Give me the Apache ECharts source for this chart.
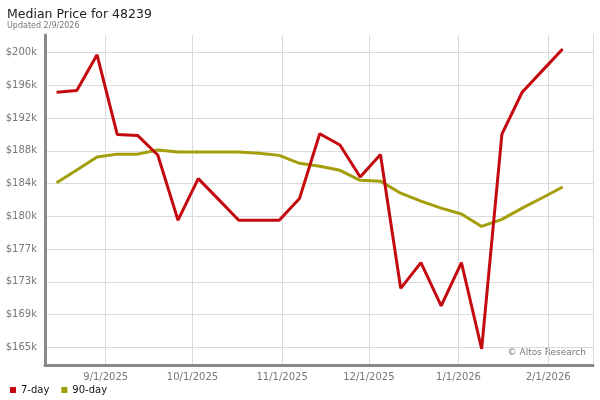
<!DOCTYPE html>
<html>
<head>
<meta charset="utf-8">
<script src="https://cdn.jsdelivr.net/npm/echarts@6/dist/echarts.min.js"></script>
<style>
  html, body { margin: 0; padding: 0; background: #fff; }
  #chart { width: 600px; height: 400px; }
</style>
</head>
<body>
<div id="chart"></div>
<script>
// weekly dates (fridays)
const weeks = [
  "2025-08-15", "2025-08-22", "2025-08-29", "2025-09-05", "2025-09-12",
  "2025-09-19", "2025-09-26", "2025-10-03", "2025-10-10", "2025-10-17",
  "2025-10-24", "2025-10-31", "2025-11-07", "2025-11-14", "2025-11-21",
  "2025-11-28", "2025-12-05", "2025-12-12", "2025-12-19", "2025-12-26",
  "2026-01-02", "2026-01-09", "2026-01-16", "2026-01-23", "2026-01-30",
  "2026-02-06"
];
const sevenDay = [
  195400, 195600, 199900, 190300, 190200, 187850, 180000, 185000, 182500, 180000,
  180000, 180000, 182600, 190400, 189050, 185200, 187900, 171800, 174900, 169700,
  174900, 164500, 190350, 195400, 198000, 200600
];
const ninetyDay = [
  184500, 186050, 187600, 187950, 187950, 188450, 188200, 188200, 188200, 188200,
  188050, 187800, 186850, 186500, 186000, 184800, 184700, 183250, 182300, 181450,
  180750, 179250, 180100, 181450, 182700, 184000
];
const monthTicks = ["2025-09-01", "2025-10-01", "2025-11-01", "2025-12-01", "2026-01-01", "2026-02-01"];
const monthLabels = ["9/1/2025", "10/1/2025", "11/1/2025", "12/1/2025", "1/1/2026", "2/1/2026"];
const yTickValues = [164700, 168640, 172580, 176520, 180460, 184400, 188340, 192280, 196220, 200160];
const yTickLabels = ["$165k", "$169k", "$173k", "$177k", "$180k", "$184k", "$188k", "$192k", "$196k", "$200k"];

const font = "DejaVu Sans";
const step = yTickValues[1] - yTickValues[0];
// dates as plain timestamps (utc days) on a value axis
const toTime = s => {
  const p = s.split(/[- :]/).map(Number);
  return Date.UTC(p[0], p[1] - 1, p[2], p[3] || 0);
};
const monthTimes = monthTicks.map(toTime);

const chart = echarts.init(document.getElementById("chart"));
chart.setOption({
  animation: false,
  textStyle: { fontFamily: font },
  title: {
    text: "Median Price for 48239",
    subtext: "Updated 2/9/2026",
    left: 2,
    top: 3,
    itemGap: 1,
    textStyle: { fontSize: 12.5, fontWeight: "normal", color: "#222", fontFamily: font },
    subtextStyle: { fontSize: 8, color: "#777", fontFamily: font }
  },
  legend: {
    left: 5,
    top: 380,
    icon: "rect",
    itemWidth: 6,
    itemHeight: 6,
    itemGap: 12,
    textStyle: { fontSize: 10, color: "#111", fontFamily: font },
    data: ["7-day", "90-day"]
  },
  grid: { left: 45, right: 7, top: 35, bottom: 35 },
  xAxis: {
    type: "value",
    min: toTime("2025-08-11"),
    max: toTime("2026-02-16 12"),
    axisLine: { show: true, onZero: false, lineStyle: { color: "#888", width: 3 } },
    axisTick: { show: false, customValues: monthTimes },
    splitLine: { show: true, lineStyle: { color: "#dadada", width: 1 } },
    axisLabel: {
      customValues: monthTimes,
      fontSize: 10,
      color: "#777",
      margin: 7,
      formatter: v => {
        const i = monthTimes.indexOf(v);
        return i >= 0 ? monthLabels[i] : "";
      }
    }
  },
  yAxis: [{
    type: "value",
    min: yTickValues[0] - step * 0.54,
    max: yTickValues[yTickValues.length - 1] + step * 0.54,
    axisLine: { show: true, lineStyle: { color: "#888", width: 3 } },
    axisTick: { show: false, customValues: yTickValues },
    splitLine: { show: true, lineStyle: { color: "#dadada", width: 1 } },
    axisLabel: {
      customValues: yTickValues,
      fontSize: 10,
      color: "#777",
      margin: 8,
      formatter: v => {
        const i = yTickValues.indexOf(v);
        return i >= 0 ? yTickLabels[i] : "";
      }
    }
  }, {
    type: "value",
    position: "right",
    axisLine: { show: true, lineStyle: { color: "#dadada", width: 1 } },
    axisTick: { show: false },
    axisLabel: { show: false },
    splitLine: { show: false }
  }],
  graphic: [{
    type: "text",
    right: 14,
    top: 348,
    style: { text: "\u00a9 Altos Research", fontSize: 9, fill: "#777", fontFamily: font }
  }],
  series: [{
    name: "7-day",
    type: "line",
    data: weeks.map((d, i) => [toTime(d), sevenDay[i]]),
    symbol: "none",
    color: "#c40a0f",
    lineStyle: { width: 3 },
    z: 3
  }, {
    name: "90-day",
    type: "line",
    data: weeks.map((d, i) => [toTime(d), ninetyDay[i]]),
    symbol: "none",
    color: "#a39e0a",
    lineStyle: { width: 3 },
    z: 2
  }]
});
</script>
</body>
</html>
